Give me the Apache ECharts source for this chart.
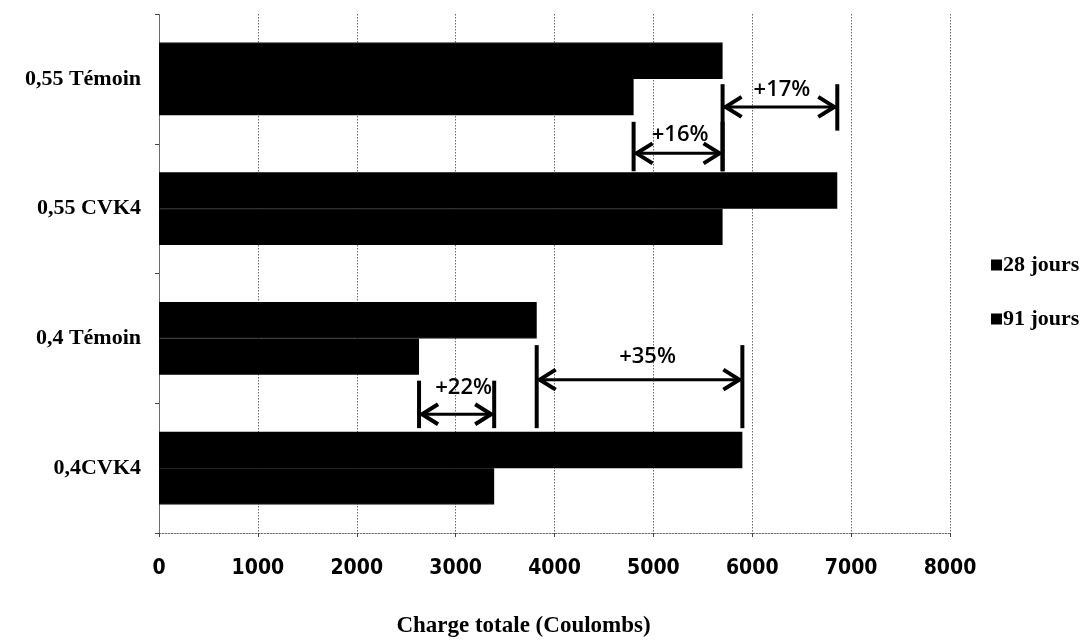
<!DOCTYPE html>
<html>
<head>
<meta charset="utf-8">
<script src="https://cdn.jsdelivr.net/npm/echarts@6/dist/echarts.min.js"></script>
<style>
  html, body { margin: 0; padding: 0; background: #fff; }
  #chart { width: 1087px; height: 643px; }
</style>
</head>
<body>
<div id="chart"></div>
<script>
// Mixes, listed bottom to top along the vertical axis
const categories = ['0,4CVK4', '0,4 Témoin', '0,55 CVK4', '0,55 Témoin'];
const seriesNames = ['28 jours', '91 jours'];
// Total charge passed (Coulombs)
const charge28 = [5900, 3820, 6860, 5700];
const charge91 = [3390, 2630, 5700, 4800];
const xTicks = [0, 1000, 2000, 3000, 4000, 5000, 6000, 7000, 8000];

// Differences marked with arrows: category the arrow sits in, start, end, text
const gainCategory = [3, 3, 1, 1];
const gainFrom = [5700, 4800, 3820, 2630];
const gainTo = [6860, 5700, 5900, 3390];
const gainLabels = ['+17%', '+16%', '+35%', '+22%'];

// Placement of each arrow inside its category band (fractions of the band,
// measured from the band centre): arrow line, end-bar extents, label lift/shift
const gainLayout = [
  { line: 0.216, lTop: 0.041, lBot: 0.712, rTop: 0.041, rBot: 0.399, lift: 0.13, dx: 2 },
  { line: 0.574, lTop: 0.331, lBot: 0.712, rTop: 0.331, rBot: 0.712, lift: 0.145, dx: 2 },
  { line: 0.318, lTop: 0.052, lBot: 0.692, rTop: 0.052, rBot: 0.692, lift: 0.18, dx: 8 },
  { line: 0.585, lTop: 0.326, lBot: 0.692, rTop: 0.326, rBot: 0.692, lift: 0.205, dx: 7 }
];

const serif = "'Liberation Serif', 'Times New Roman', serif";
const narrow = "'Liberation Sans Narrow', 'Arial Narrow', 'DejaVu Sans Condensed', sans-serif";
const dotted = { color: '#6a6a6a', width: 1, type: [1.5, 1.5] };

const gainData = gainFrom.map((v, i) => [v, gainTo[i], gainCategory[i]]);

function renderGain(params, api) {
  const i = params.dataIndex;
  const L = gainLayout[i];
  const cat = api.value(2);
  const a = api.coord([api.value(0), cat]);
  const b = api.coord([api.value(1), cat]);
  const band = api.size([0, 1])[1];
  const cy = a[1];
  const y = cy + L.line * band;
  const x0 = a[0], x1 = b[0];
  const head = 16, half = 10;
  const stroke = { stroke: '#000', lineWidth: 4, lineJoin: 'miter', lineCap: 'butt', fill: null };
  return {
    type: 'group',
    children: [
      { type: 'line', shape: { x1: x0, y1: y, x2: x1, y2: y }, style: { stroke: '#000', lineWidth: 3 } },
      { type: 'line', shape: { x1: x0, y1: cy + L.lTop * band, x2: x0, y2: cy + L.lBot * band },
        style: { stroke: '#000', lineWidth: 4 } },
      { type: 'line', shape: { x1: x1, y1: cy + L.rTop * band, x2: x1, y2: cy + L.rBot * band },
        style: { stroke: '#000', lineWidth: 4 } },
      { type: 'polyline', shape: { points: [[x0 + 3 + head, y - half], [x0 + 3, y], [x0 + 3 + head, y + half]] },
        style: stroke },
      { type: 'polyline', shape: { points: [[x1 - 3 - head, y - half], [x1 - 3, y], [x1 - 3 - head, y + half]] },
        style: stroke },
      { type: 'text', x: (x0 + x1) / 2 + L.dx, y: y - L.lift * band,
        style: { text: gainLabels[i], fill: '#000', align: 'center', verticalAlign: 'middle',
                 font: "600 22px 'Open Sans', 'Liberation Sans', sans-serif" } }
    ]
  };
}

const chart = echarts.init(document.getElementById('chart'), null, { renderer: 'canvas' });
chart.setOption({
  animation: false,
  backgroundColor: '#fff',
  grid: { left: 159, right: 137, top: 14, bottom: 104, containLabel: false },
  legend: {
    data: seriesNames,
    orient: 'vertical',
    left: 986,
    top: 249,
    icon: 'rect',
    itemWidth: 9,
    itemHeight: 9,
    itemGap: 32,
    textStyle: { fontFamily: serif, fontWeight: 'bold', fontSize: 22, color: '#000', lineHeight: 22, padding: [0, 0, 0, -3] }
  },
  xAxis: {
    type: 'value',
    min: xTicks[0],
    max: xTicks[xTicks.length - 1],
    interval: xTicks[1] - xTicks[0],
    axisLine: { show: true, lineStyle: dotted },
    axisTick: { show: true, length: 4, lineStyle: { color: '#444', width: 1 } },
    splitLine: { show: true, lineStyle: dotted },
    axisLabel: {
      margin: 25, fontFamily: narrow, fontWeight: 'bold', fontSize: 21, color: '#000',
      formatter: (v) => String(v)
    },
    name: 'Charge totale (Coulombs)',
    nameLocation: 'middle',
    nameGap: 82,
    nameTextStyle: { fontFamily: serif, fontWeight: 'bold', fontSize: 23, color: '#000', padding: [0, 62, 0, 0] }
  },
  yAxis: {
    type: 'category',
    data: categories,
    axisLine: { show: true, lineStyle: dotted },
    axisTick: { show: true, length: 4, lineStyle: { color: '#444', width: 1 } },
    splitLine: { show: false },
    axisLabel: { margin: 18, fontFamily: serif, fontWeight: 'bold', fontSize: 22, color: '#000' }
  },
  series: [
    {
      name: seriesNames[0], type: 'bar', data: charge28,
      barCategoryGap: '44%', barGap: '0%',
      itemStyle: { color: '#000', borderColor: '#000', borderWidth: 1.2 }
    },
    {
      name: seriesNames[1], type: 'bar', data: charge91,
      barCategoryGap: '44%', barGap: '0%',
      itemStyle: { color: '#000', borderColor: '#000', borderWidth: 1.2 }
    },
    {
      type: 'custom',
      renderItem: renderGain,
      data: gainData,
      encode: { x: [0, 1], y: 2 },
      clip: false,
      z: 10,
      silent: true
    }
  ]
});
</script>
</body>
</html>
